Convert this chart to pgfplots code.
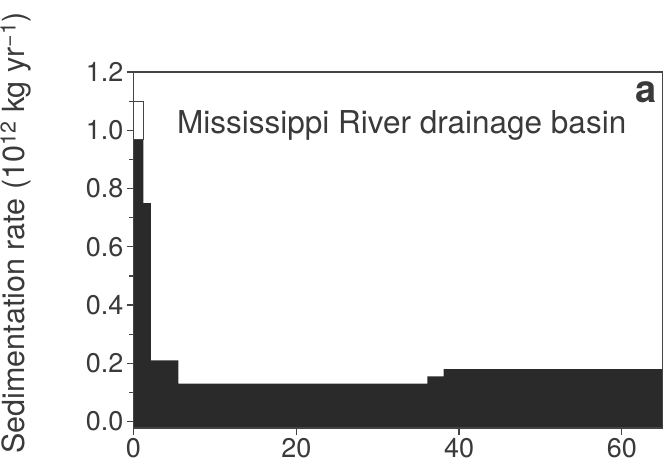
\documentclass[border=0pt]{standalone}
\usepackage{fontspec}
\setmainfont{TeX Gyre Heros}
\usepackage{pgfplots}
\pgfplotsset{compat=1.18}
\definecolor{barc}{HTML}{2A2A2A}
\definecolor{axc}{HTML}{444444}
\definecolor{txc}{HTML}{3A3A3A}
\begin{document}
\begin{tikzpicture}
\useasboundingbox (-133.5bp,-34bp) rectangle (530.5bp,428bp);
\clip (-133.5bp,-34bp) rectangle (530.5bp,428bp);
\begin{axis}[
  at={(0,0)}, anchor=south west,
  scale only axis, width=529bp, height=356bp,
  xmin=0, xmax=65, ymin=-0.022, ymax=1.2,
  xtick={0,20,40,60},
  ytick={0,0.2,0.4,0.6,0.8,1.0,1.2},
  minor ytick={0.1,0.3,0.5,0.7,0.9,1.1},
  yticklabel style={/pgf/number format/.cd, fixed, fixed zerofill, precision=1},
  tick align=outside, tick pos=left,
  major tick length=6.5bp, minor tick length=4bp,
  axis line style={axc, line width=1.2bp},
  every tick/.style={axc, line width=1.2bp},
  tick label style={font=\fontsize{27bp}{28bp}\selectfont, text=txc},
  /pgf/number format/assume math mode=true,
  axis on top,
]
\addplot[const plot, fill=barc, draw=none] coordinates {
  (0,-0.05) (0,0.97) (1.2,0.75) (2.15,0.21) (5.5,0.13) (36.1,0.155) (38.1,0.18) (66,0.18) (66,-0.05)
} -- cycle;
\addplot[draw=axc, fill=white, line width=1bp] coordinates {
  (0,0.97) (0,1.10) (1.2,1.10) (1.2,0.97)
} -- cycle;
\end{axis}
\node[anchor=base west, font=\fontsize{31.5bp}{32bp}\selectfont, text=txc, inner sep=0pt] at (43.5bp,294bp) {Mississippi River drainage basin};
\node[anchor=base east, font=\fontsize{38bp}{38bp}\selectfont\bfseries, text=txc, inner sep=0pt] at (523.5bp,325bp) {a};
\node[rotate=90, anchor=base east, font=\fontsize{30.5bp}{31bp}\selectfont, text=txc, inner sep=0pt] at (-109bp,416bp) {Sedimentation rate (10\textsuperscript{12} kg yr\textsuperscript{−1})};
\end{tikzpicture}
\end{document}
